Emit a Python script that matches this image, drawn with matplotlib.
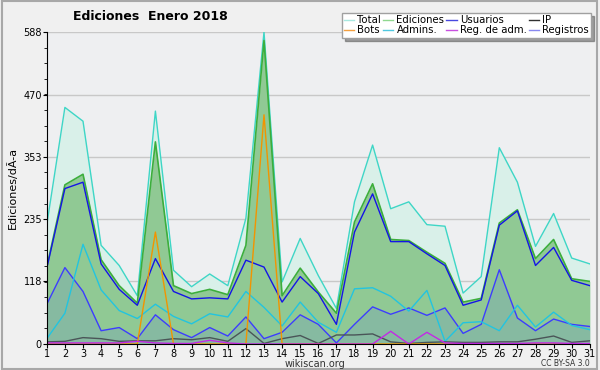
import numpy as np
import matplotlib.pyplot as plt
from matplotlib.lines import Line2D
from matplotlib.ticker import MultipleLocator

days = list(range(1, 32))
total = [225, 446, 420, 186, 148, 91, 439, 139, 108, 132, 110, 237, 588, 117, 199, 129, 67,
         268, 375, 255, 268, 225, 222, 96, 127, 370, 305, 184, 246, 162, 151]
ediciones = [145, 300, 320, 159, 110, 77, 381, 110, 95, 103, 93, 186, 572, 91, 143, 98, 58,
             230, 302, 197, 195, 173, 152, 79, 86, 228, 253, 161, 197, 123, 118]
usuarios = [143, 293, 305, 151, 103, 73, 161, 99, 85, 87, 85, 158, 145, 79, 127, 95, 37,
            211, 283, 193, 193, 170, 148, 73, 83, 224, 251, 148, 182, 120, 110]
ip = [4, 5, 12, 10, 5, 6, 6, 10, 8, 12, 5, 29, 1, 10, 16, 1, 17,
      17, 19, 4, 1, 3, 4, 3, 3, 4, 4, 9, 15, 3, 6]
bots = [0, 0, 0, 0, 0, 0, 211, 0, 0, 0, 0, 0, 432, 0, 0, 0, 0,
        0, 0, 0, 0, 0, 0, 0, 0, 0, 0, 0, 0, 0, 0]
admins = [10, 58, 188, 102, 63, 48, 75, 52, 38, 57, 51, 99, 69, 34, 79, 41, 22,
          104, 106, 90, 62, 101, 5, 40, 42, 25, 73, 32, 60, 35, 27]
reg_adm = [2, 2, 2, 2, 2, 5, 2, 1, 1, 7, 2, 0, 0, 0, 0, 0, 0,
           0, 0, 24, 0, 22, 2, 1, 1, 1, 1, 2, 2, 1, 1]
registros = [75, 144, 99, 25, 31, 10, 55, 27, 12, 31, 15, 51, 10, 22, 55, 37, 2,
             37, 70, 56, 68, 54, 68, 20, 37, 140, 49, 25, 47, 37, 33]
yticks = [0, 118, 235, 353, 470, 588]

fig = plt.figure(figsize=(6, 3.7), dpi=100, facecolor='#f0f0f0')
ax = fig.add_axes([0.078, 0.0703, 0.905, 0.843])
ax.set_facecolor('#eeeff1')

ax.fill_between(days, 0, total, color='#d9f0e9', lw=0)
ax.fill_between(days, 0, ediciones, color='#90c994', lw=0)
ax.fill_between(days, 0, registros, color='#4a5aff', alpha=0.13, lw=0)

ax.plot(days, total, color='#3ed6c6', lw=1)
ax.plot(days, ediciones, color='#3cae3c', lw=1.2)
ax.plot(days, usuarios, color='#1414e6', lw=1)
ax.plot(days, registros, color='#3c3cff', lw=1)
ax.plot(days, admins, color='#22c4e0', lw=1)
ax.plot(days, ip, color='#4a5558', lw=1)
ax.plot(days, bots, color='#f29400', lw=1)
ax.plot(days, reg_adm, color='#c428e6', lw=1)

ax.set_xlim(1, 31)
ax.set_ylim(0, 588)
ax.set_xticks(days)
ax.set_yticks(yticks)
ax.yaxis.set_minor_locator(MultipleLocator(588 / 20))
ax.tick_params(axis='both', labelsize=7, length=3, color='black', pad=0.5)
ax.tick_params(axis='y', which='minor', length=2)
ax.grid(axis='y', color='#c8c8c8', lw=1)
ax.set_axisbelow(True)
for s in ['top', 'right']:
    ax.spines[s].set_visible(False)
ax.set_ylabel('Ediciones/dÃ-a', fontsize=8, labelpad=4)
ax.set_title('Ediciones  Enero 2018', fontsize=9, fontweight='bold', pad=9, x=0.19)

labels = ['Total', 'Bots', 'Ediciones', 'Admins.', 'Usuarios', 'Reg. de adm.', 'IP', 'Registros']
colors = ['#a8e8e0', '#f4a040', '#90d890', '#50c8e0', '#4848e0', '#c850e0', '#303030', '#8888f0']
handles = [Line2D([], [], color=c, lw=1) for c in colors]
leg = fig.legend(handles, labels, ncol=4, loc='upper right', bbox_to_anchor=(0.985, 0.965),
                 fontsize=7.3, frameon=True, fancybox=False, shadow=True,
                 handlelength=1.0, handletextpad=0.3, columnspacing=0.2,
                 labelspacing=0.0, borderpad=0.25, borderaxespad=0)
leg.get_frame().set_edgecolor('#a0a0a0')
leg.get_frame().set_linewidth(1)

fig.text(0.525, 0.008, 'wikiscan.org', fontsize=7, ha='center', color='#333333')
fig.text(0.983, 0.012, 'CC BY-SA 3.0', fontsize=5.5, ha='right', color='#333333')
fig.patches.append(plt.Rectangle((0.003, 0.004), 0.992, 0.993, transform=fig.transFigure,
                                 fill=False, edgecolor='#a8a8a8', lw=1.5))

fig.savefig('out.png', dpi=100, facecolor=fig.get_facecolor())
